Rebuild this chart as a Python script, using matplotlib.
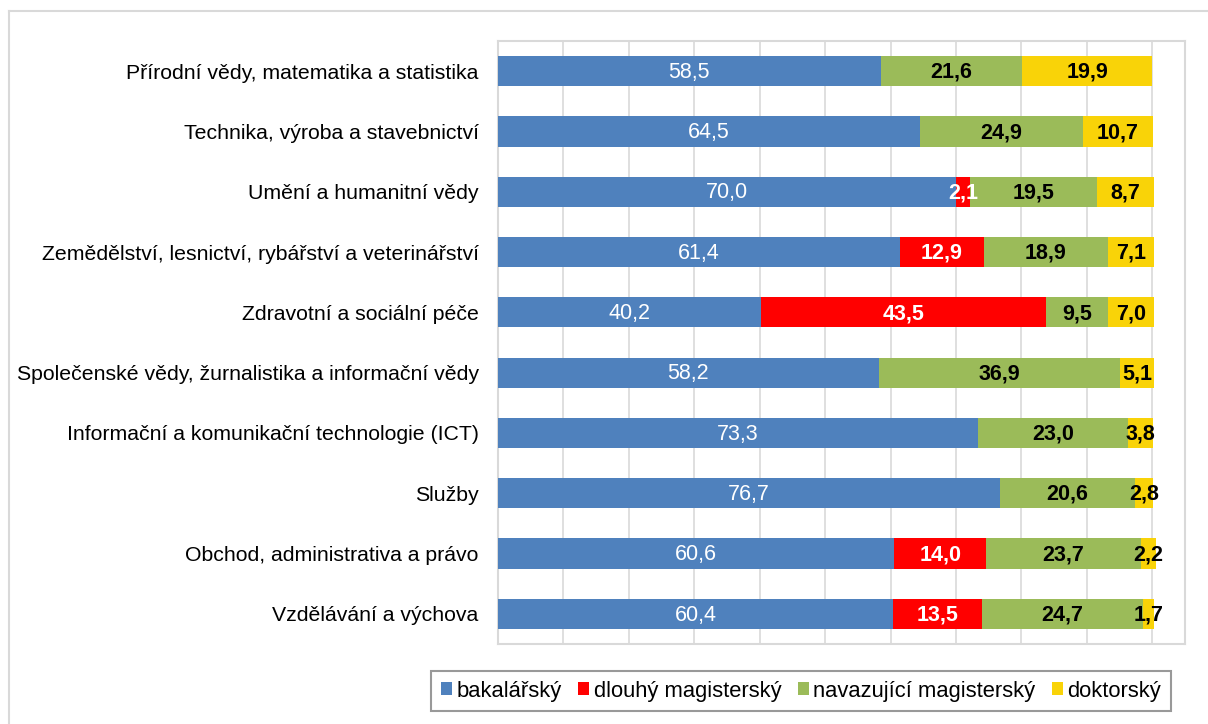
import matplotlib.pyplot as plt
from matplotlib.patches import Patch
from matplotlib.lines import Line2D
import numpy as np

plt.rcParams['font.family'] = ['Liberation Sans', 'DejaVu Sans']

obory = [
    "Přírodní vědy, matematika a statistika",
    "Technika, výroba a stavebnictví",
    "Umění a humanitní vědy",
    "Zemědělství, lesnictví, rybářství a veterinářství",
    "Zdravotní a sociální péče",
    "Společenské vědy, žurnalistika a informační vědy",
    "Informační a komunikační technologie (ICT)",
    "Služby",
    "Obchod, administrativa a právo",
    "Vzdělávání a výchova",
]
bakalarsky = [58.5, 64.5, 70.0, 61.4, 40.2, 58.2, 73.3, 76.7, 60.6, 60.4]
dlouhy_mag = [0, 0, 2.1, 12.9, 43.5, 0, 0, 0, 14.0, 13.5]
navazujici = [21.6, 24.9, 19.5, 18.9, 9.5, 36.9, 23.0, 20.6, 23.7, 24.7]
doktorsky = [19.9, 10.7, 8.7, 7.1, 7.0, 5.1, 3.8, 2.8, 2.2, 1.7]

serie = ["bakalářský", "dlouhý magisterský", "navazující magisterský", "doktorský"]
barvy = ["#4F81BD", "#FF0000", "#9BBB59", "#F9D308"]
# barva a tloustka popisku pro kazdou serii
popisky = [("white", "normal"), ("white", "bold"), ("black", "bold"), ("black", "bold")]

fig = plt.figure(figsize=(12.08, 7.24), dpi=100)
ax = fig.add_axes([498 / 1208, 1 - 644 / 724, (1185 - 498) / 1208, (644 - 41) / 724])

y = np.arange(len(obory))
data = [bakalarsky, dlouhy_mag, navazujici, doktorsky]
left = np.zeros(len(obory))
for vals, barva, (tc, tw) in zip(data, barvy, popisky):
    vals = np.array(vals, dtype=float)
    ax.barh(y, vals, left=left, height=0.5, color=barva, zorder=3)
    for i, v in enumerate(vals):
        if v > 0:
            ax.text(left[i] + v / 2, y[i] + 0.02, f"{v:.1f}".replace(".", ","),
                    ha="center", va="center", color=tc, fontweight=tw,
                    fontsize=15.5, zorder=4)
    left += vals

ax.set_xlim(0, 105)
ax.set_ylim(len(obory) - 0.5, -0.5)
ax.set_xticks(np.arange(0, 101, 10))
ax.xaxis.grid(True, color="#d9d9d9", linewidth=1.2, zorder=0)
ax.tick_params(axis="x", length=0, labelbottom=False)
ax.tick_params(axis="y", length=0, pad=14, labelsize=15.3)
ax.set_yticks(y)
ax.set_yticklabels(obory)
for s in ax.spines.values():
    s.set_color("#d9d9d9")
    s.set_linewidth(1.5)

handles = [Patch(facecolor=c, edgecolor="none") for c in barvy]
leg = fig.legend(handles, serie, loc="center", bbox_to_anchor=(801 / 1208, 1 - 691 / 724),
                 ncol=4, frameon=True, fancybox=False, fontsize=15.8,
                 handlelength=0.5, handleheight=0.5, handletextpad=0.2,
                 columnspacing=0.75, borderpad=0.45, borderaxespad=0)
leg.get_frame().set_edgecolor("#808080")
leg.get_frame().set_linewidth(1.5)

# vnejsi ramecek grafu
fig.add_artist(Line2D([9 / 1208, 9 / 1208], [0, 1 - 11 / 724], color="#d9d9d9", linewidth=1.5))
fig.add_artist(Line2D([9 / 1208, 1], [1 - 11 / 724, 1 - 11 / 724], color="#d9d9d9", linewidth=1.5))

fig.savefig("out.png", dpi=100)
